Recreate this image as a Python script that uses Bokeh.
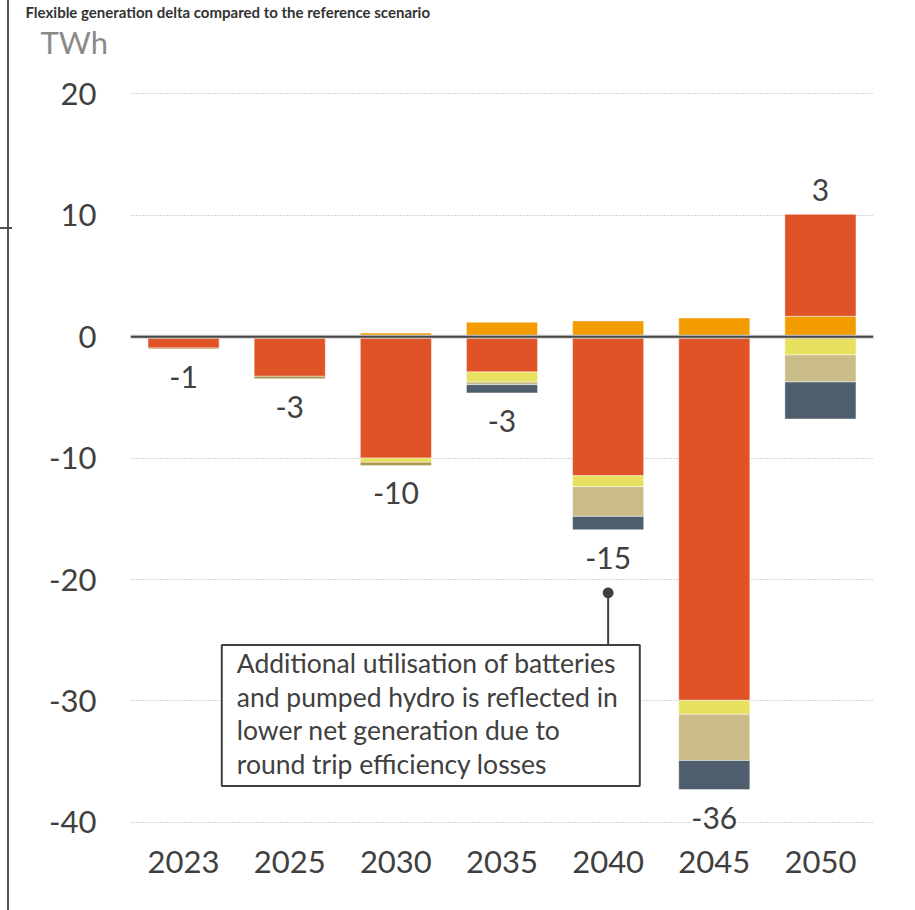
import numpy as np
from bokeh.plotting import figure
from bokeh.models import ColumnDataSource, LabelSet, Label, Span, FixedTicker, Title
from bokeh.core.properties import value
from bokeh.embed import file_html
from bokeh.resources import INLINE

# ---------------- data ----------------
years = ["2023", "2025", "2030", "2035", "2040", "2045", "2050"]
series_names = ["Gas", "Hydro", "Batteries", "Pumped hydro", "Other", "Demand response"]
gas = [-0.93, -3.26, -10.0, -2.9, -11.45, -29.95, 8.4]
hydro = [0.0, 0.0, 0.3, 1.2, 1.3, 1.55, 1.68]
batteries = [0.0, 0.0, -0.35, -0.83, -0.9, -1.15, -1.5]
pumped_hydro = [0.0, 0.0, 0.0, -0.22, -2.45, -3.8, -2.23]
other = [-0.08, -0.2, -0.25, 0.0, 0.0, 0.0, 0.0]
demand_response = [0.0, 0.0, 0.0, -0.68, -1.1, -2.4, -3.05]
colors = ["#E05327", "#F39C00", "#E8E160", "#C9BC88", "#A8944A", "#4E5E6C"]
y_ticks = [20, 10, 0, -10, -20, -30, -40]
y_tick_labels = ["20", "10", "0", "-10", "-20", "-30", "-40"]
title_text = "Flexible generation delta compared to the reference scenario"
unit_text = "TWh"
note_text = ("Additional utilisation of batteries\n"
             "and pumped hydro is reflected in\n"
             "lower net generation due to\n"
             "round trip efficiency losses")
note_year = "2040"
# stacking order outward from zero
pos_order = [1, 0]
neg_order = [0, 2, 3, 4, 5]

all_series = [gas, hydro, batteries, pumped_hydro, other, demand_response]

W, H = 915, 910
FONT = "Lato"
TXT = "#404040"

p = figure(x_range=years, y_range=(-41, 22.75), width=W, height=H,
           output_backend="svg", toolbar_location=None,
           min_border_left=130, min_border_right=42,
           min_border_top=56, min_border_bottom=76)
p.x_range.range_padding = 0
p.border_fill_color = None
p.background_fill_color = None
p.outline_line_color = None
p.styles = {"background": "linear-gradient(#505050,#505050) 7px 0 / 2px 100% no-repeat, "
                          "linear-gradient(#505050,#505050) 0 227px / 12px 2px no-repeat, white"}

# bars
n = len(years)
pos_base = np.zeros(n)
neg_base = np.zeros(n)
for sign, order in ((1, pos_order), (-1, neg_order)):
    for idx in order:
        vals = np.array(all_series[idx], dtype=float)
        if sign > 0:
            v = np.where(vals > 0, vals, 0.0)
            bottom = pos_base.copy(); top = pos_base + v; pos_base = top
        else:
            v = np.where(vals < 0, vals, 0.0)
            top = neg_base.copy(); bottom = neg_base + v; neg_base = bottom
        keep = v != 0
        src = ColumnDataSource(dict(x=[y for y, k in zip(years, keep) if k],
                                    top=top[keep], bottom=bottom[keep]))
        p.vbar(x="x", top="top", bottom="bottom", width=0.67, source=src,
               fill_color=colors[idx], line_color="white", line_alpha=0.45, line_width=1)

# net labels
net = np.sum(np.array(all_series), axis=0)
lab = ["%d" % int(np.round(v)) for v in net]
neg_idx = [i for i in range(n) if net[i] < 0]
pos_idx = [i for i in range(n) if net[i] >= 0]
src_neg = ColumnDataSource(dict(x=[years[i] for i in neg_idx], y=[neg_base[i] for i in neg_idx],
                                t=[lab[i] for i in neg_idx]))
src_pos = ColumnDataSource(dict(x=[years[i] for i in pos_idx], y=[pos_base[i] for i in pos_idx],
                                t=[lab[i] for i in pos_idx]))
for src, off in ((src_neg, -28), (src_pos, 24)):
    p.add_layout(LabelSet(x="x", y="y", text="t", source=src, y_offset=off,
                          text_align="center", text_baseline="middle", text_font=value(FONT),
                          text_font_size="30px", text_color=TXT,
                          background_fill_color="white"))

# zero line (with faint shadow)
p.add_layout(Span(location=0, dimension="width", line_color="#d0d0d0", line_width=4))
p.add_layout(Span(location=0, dimension="width", line_color="#474747", line_width=2))

# axes
p.yaxis.ticker = FixedTicker(ticks=y_ticks)
p.yaxis.major_label_overrides = {t: s for t, s in zip(y_ticks, y_tick_labels)}
for ax in (p.xaxis, p.yaxis):
    ax.axis_line_color = None
    ax.major_tick_line_color = None
    ax.minor_tick_line_color = None
    ax.major_label_text_font = FONT
    ax.major_label_text_font_size = "31px"
    ax.major_label_text_color = TXT
p.yaxis.major_label_standoff = 28
p.xaxis.major_label_standoff = 10
p.xgrid.grid_line_color = None
p.ygrid.grid_line_color = "#a8a8a8"
p.ygrid.grid_line_dash = "1 2"
p.ygrid.grid_line_width = 1

# callout
xi = years.index(note_year) + 0.5
p.segment(x0=[xi], y0=[-21.1], x1=[xi], y1=[-25.4], line_color="#404040", line_width=2)
p.scatter(x=[xi], y=[-21.1], size=10, fill_color="#404040", line_color="#404040")
p.add_layout(Label(x=0.86, y=-25.4, text=note_text, anchor="top_left",
                   text_font=FONT, text_font_size="26.5px", text_color=TXT,
                   text_line_height=1.05, padding=(15, 22, 2, 6),
                   border_line_color="#404040", border_line_width=2,
                   background_fill_color="white"))

# title & unit
p.title.text = title_text
p.title.text_font = FONT
p.title.text_font_size = "15px"
p.title.text_font_style = "bold"
p.title.text_color = "#333333"
p.title.align = "left"
p.title.offset = -105
p.title.standoff = 0
p.add_layout(Title(text=unit_text, text_font=FONT, text_font_size="31px",
                   text_font_style="normal", text_color="#8a8a8a", align="left",
                   offset=-90, standoff=0), "above")

open("out.html", "w").write(file_html(p, INLINE))
